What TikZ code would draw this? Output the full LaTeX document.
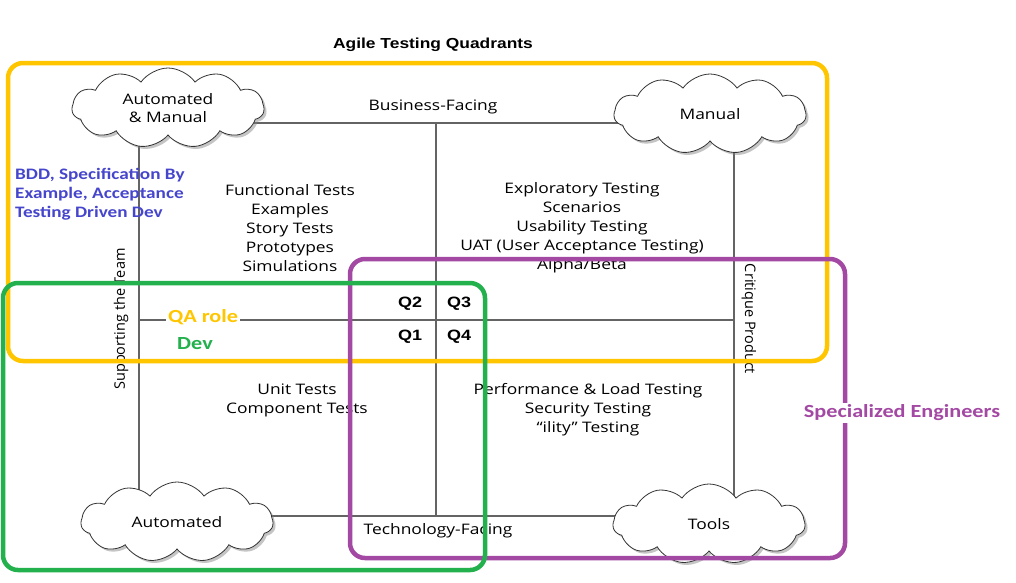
\documentclass[tikz,border=0pt]{standalone}
\usepackage{fontspec}
\setmainfont{Open Sans}[FakeStretch=1.2]
\newfontfamily\plainsans{Open Sans}
\newfontfamily\carl{Carlito}[FakeStretch=1.2]
\newfontfamily\arialf{Liberation Sans}[FakeStretch=1.2]
\usetikzlibrary{shapes.symbols,shadows}
\definecolor{qyellow}{RGB}{255,198,0}
\definecolor{qgreen}{RGB}{34,177,76}
\definecolor{qpurple}{RGB}{163,73,164}
\definecolor{qblue}{RGB}{70,70,205}
\definecolor{qgray}{RGB}{100,100,100}
\tikzset{
  frame/.style={draw=qgray, line width=1.3pt},
  cloudbox/.style={cloud, cloud puffs=11, cloud puff arc=110, aspect=2.4, draw=black!80, line width=0.8pt, fill=white,
     minimum width=192pt, minimum height=80pt, inner sep=0pt, align=center,
     font=\fontsize{14.5}{18}\selectfont,
     drop shadow={shadow xshift=2.5pt, shadow yshift=-2.5pt, opacity=0.45}},
  qtext/.style={align=center, font=\fontsize{14.5}{19}\selectfont, inner sep=0pt},
  rtext/.style={font=\plainsans\fontsize{14.5}{19}\selectfont, inner sep=0pt},
  qlabel/.style={font=\arialf\bfseries\fontsize{15}{18}\selectfont, inner sep=0pt},
  bigbox/.style={rounded corners=15pt, line width=4.5pt},
  role/.style={font=\carl\bfseries\fontsize{18.5}{22}\selectfont, inner sep=2pt}
}
\begin{document}
\begin{tikzpicture}[x=1pt,y=-1pt]
\useasboundingbox (0,0) rectangle (1016,582);
\fill[white] (0,0) rectangle (1016,582);
% frame coordinates
\coordinate (tl) at (139,123);
\coordinate (tr) at (734,123);
\coordinate (bl) at (139,516);
\coordinate (br) at (734,516);
\coordinate (tm) at (436,123);
\coordinate (bm) at (436,516);
\coordinate (lm) at (139,320);
\coordinate (rm) at (734,320);
\draw[frame] (tl) -- (tr) -- (br) -- (bl) -- cycle;
\draw[frame] (tm) -- (bm);
\draw[frame] (lm) -- (rm);
% clouds
\node[cloudbox] (am) at (168,108) {Automated\\\& Manual};
\node[cloudbox] (man) at (710,114) {Manual};
\node[cloudbox] (aut) at (177,522) {Automated};
\node[cloudbox] (tools) at (709,524) {Tools};
% title
\node[font=\arialf\bfseries\fontsize{14.5}{18}\selectfont] (title) at (433,45) {Agile Testing Quadrants};
% axis labels
\node[qtext] (bf) at (433,107) {Business-Facing};
\node[qtext] (tf) at (438,531) {Technology-Facing};
\node[rtext, rotate=90] (st) at (121,319) {Supporting the Team};
\node[rtext, rotate=-90] (cp) at (749,319) {Critique Product};
% quadrant texts
\node[qtext] (q2t) at (290,228) {Functional Tests\\Examples\\Story Tests\\Prototypes\\Simulations};
\node[qtext] (q3t) at (582,228) {Exploratory Testing\\Scenarios\\Usability Testing\\UAT (User Acceptance Testing)\\Alpha/Beta};
\node[qtext] (q1t) at (297,400) {Unit Tests\\Component Tests};
\node[qtext] (q4t) at (588,410) {Performance \& Load Testing\\Security Testing\\“ility” Testing};
% Q labels
\node[qlabel] (q2) at (410,304) {Q2};
\node[qlabel] (q3) at (459,304) {Q3};
\node[qlabel] (q1) at (410,337) {Q1};
\node[qlabel] (q4) at (459,337) {Q4};
% coloured boxes
\draw[bigbox, draw=qyellow] (8,63) rectangle (827,361);
\draw[bigbox, draw=qpurple] (350,259) rectangle (845,558);
\draw[bigbox, draw=qgreen] (3,283) rectangle (485,570);
% role labels
\node[role, fill=white, text=qyellow] (qa) at (203,317) {QA role};
\node[role, text=qgreen] (dev) at (195,344) {Dev};
\node[role, fill=white, text=qpurple] (se) at (902,413) {Specialized Engineers};
\node[font=\carl\bfseries\fontsize{16}{19}\selectfont, text=qblue, align=left, anchor=north west, inner sep=0pt] (bdd) at (15,168) {BDD, Specification By\\Example, Acceptance\\Testing Driven Dev};
\end{tikzpicture}
\end{document}
